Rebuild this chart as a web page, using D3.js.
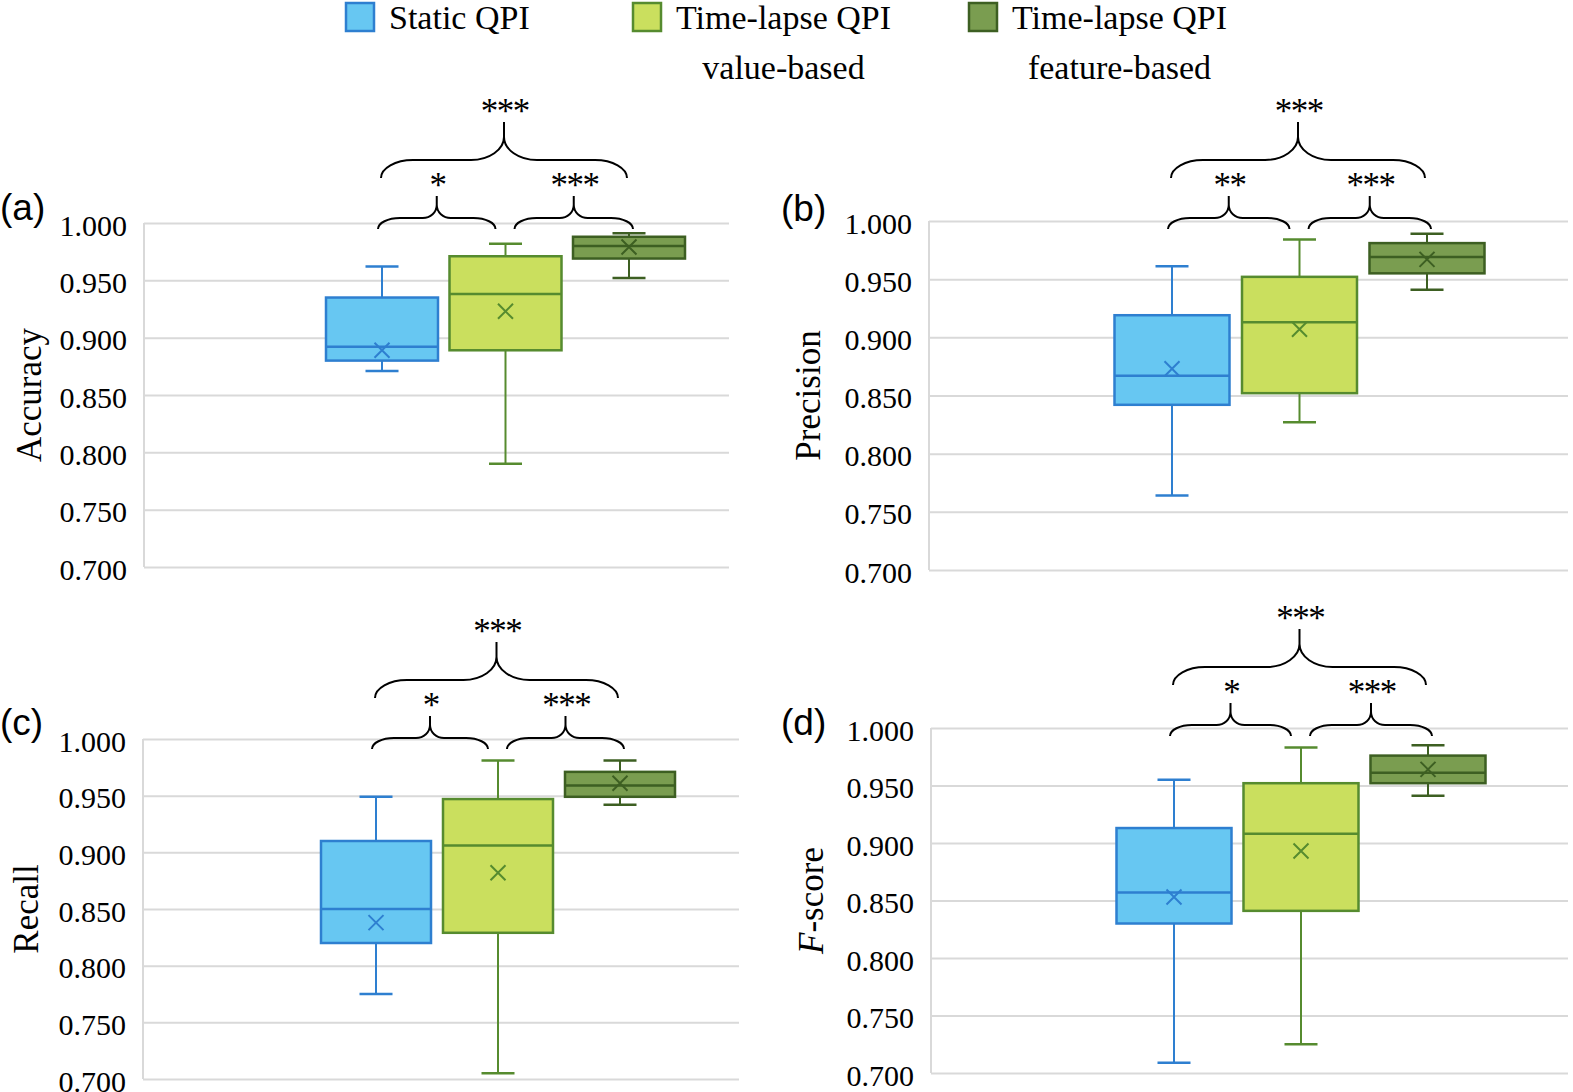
<!DOCTYPE html>
<html>
<head>
<meta charset="utf-8">
<script src="https://cdn.jsdelivr.net/npm/d3@7"></script>
<style>
  body { margin: 0; background: #fff; }
  svg { display: block; }
</style>
</head>
<body>
<svg id="chart" width="1573" height="1092"></svg>
<script>
// series and metrics
const seriesNames = ["Static QPI", "Time-lapse QPI value-based", "Time-lapse QPI feature-based"];
const metricNames = ["Accuracy", "Precision", "Recall", "F-score"];
const panelTags = ["(a)", "(b)", "(c)", "(d)"];
const yTicks = [0.700, 0.750, 0.800, 0.850, 0.900, 0.950, 1.000];

// box plot statistics, [metric][series]
const whiskerLow  = [[0.871, 0.790, 0.952], [0.764, 0.827, 0.941], [0.775, 0.705, 0.942], [0.709, 0.725, 0.941]];
const q1          = [[0.880, 0.889, 0.969], [0.842, 0.852, 0.955], [0.820, 0.829, 0.949], [0.830, 0.841, 0.952]];
const median      = [[0.892, 0.938, 0.980], [0.867, 0.913, 0.969], [0.850, 0.906, 0.959], [0.857, 0.908, 0.961]];
const q3          = [[0.935, 0.971, 0.988], [0.919, 0.952, 0.981], [0.910, 0.947, 0.971], [0.913, 0.952, 0.976]];
const whiskerHigh = [[0.962, 0.982, 0.991], [0.961, 0.984, 0.989], [0.949, 0.981, 0.981], [0.955, 0.983, 0.985]];
const mean        = [[0.889, 0.923, 0.979], [0.873, 0.907, 0.967], [0.838, 0.882, 0.961], [0.853, 0.893, 0.964]];

// significance marks
const sigLeft  = ["*", "**", "*", "*"];
const sigRight = ["***", "***", "***", "***"];
const sigAll   = ["***", "***", "***", "***"];

const fills   = ["#67C7F2", "#CADF5E", "#7A9D50"];
const strokes = ["#2E7FD0", "#568B2F", "#3D5F22"];
const serif = "'Liberation Serif', 'Times New Roman', serif";

// layout of the four panels
const panels = [
  {x0: 144, x1: 729,  yTop: 223, yBot: 567,  c0: 382,  c2: 629,  boxW: 112, braceY: 229, tagX: 0,   tagY: 220, titleX: 41},
  {x0: 929, x1: 1568, yTop: 221, yBot: 570,  c0: 1172, c2: 1427, boxW: 115, braceY: 229, tagX: 781, tagY: 221, titleX: 820},
  {x0: 143, x1: 739,  yTop: 739, yBot: 1079, c0: 376,  c2: 620,  boxW: 110, braceY: 749, tagX: 0,   tagY: 735, titleX: 38},
  {x0: 931, x1: 1568, yTop: 728, yBot: 1073, c0: 1174, c2: 1428, boxW: 115, braceY: 736, tagX: 781, tagY: 735, titleX: 823}
];

const svg = d3.select("#chart");

function drawLegend() {
  let items = [
    {x: 345, label: ["Static QPI"]},
    {x: 632, label: ["Time-lapse QPI", "value-based"]},
    {x: 968, label: ["Time-lapse QPI", "feature-based"]}
  ];
  items.forEach((it, i) => {
    let g = svg.append("g");
    g.append("rect")
      .attr("x", it.x + 1).attr("y", 3)
      .attr("width", 28).attr("height", 28)
      .attr("fill", fills[i])
      .attr("stroke", strokes[i])
      .attr("stroke-width", 2.5);
    let t = g.append("text")
      .attr("x", it.x + 44).attr("y", 29)
      .attr("font-family", serif)
      .attr("font-size", 34)
      .text(it.label[0]);
    if (it.label.length > 1) {
      let w = t.node().getComputedTextLength();
      g.append("text")
        .attr("x", it.x + 44 + w / 2).attr("y", 79)
        .attr("text-anchor", "middle")
        .attr("font-family", serif)
        .attr("font-size", 34)
        .text(it.label[1]);
    }
  });
}

function bracePath(xa, xb, yEnd, yMid, yTip, r1, r2, yK) {
  let xm = (xa + xb) / 2;
  let k = 0.55;
  return `M${xa},${yEnd}` +
    `C${xa},${yEnd - (yEnd - yMid) * k} ${xa + r1 * (1 - k)},${yMid} ${xa + r1},${yMid}` +
    `L${xm - r2},${yMid}` +
    `C${xm - r2 * (1 - k)},${yMid} ${xm},${yK + (yMid - yK) * k} ${xm},${yK}` +
    `L${xm},${yTip}` +
    `M${xm},${yK}` +
    `C${xm},${yK + (yMid - yK) * k} ${xm + r2 * (1 - k)},${yMid} ${xm + r2},${yMid}` +
    `L${xb - r1},${yMid}` +
    `C${xb - r1 * (1 - k)},${yMid} ${xb},${yEnd - (yEnd - yMid) * k} ${xb},${yEnd}`;
}

function drawBrace(g, xa, xb, yEnd, big, label) {
  let yMid = big ? yEnd - 18 : yEnd - 11;
  let yTip = big ? yEnd - 56 : yEnd - 33;
  let yK = big ? yMid - 23 : yMid - 13;
  g.append("path")
    .attr("d", bracePath(xa, xb, yEnd, yMid, yTip, big ? 32 : 22, big ? 33 : 14, yK))
    .attr("fill", "none")
    .attr("stroke", "#000")
    .attr("stroke-width", 2);
  // star labels, centre about 17px above the tip
  g.append("text")
    .attr("x", (xa + xb) / 2 + 0.75)
    .attr("y", yTip - 17 + 18)
    .attr("text-anchor", "middle")
    .attr("font-family", serif)
    .attr("font-size", 35)
    .attr("letter-spacing", -1.5)
    .text(label);
}

function drawPanel(m) {
  let p = panels[m];
  let g = svg.append("g");
  let y = d3.scaleLinear().domain([0.7, 1.0]).range([p.yBot, p.yTop]);
  let x = d3.scalePoint().domain(seriesNames).range([p.c0, p.c2]);

  // gridlines + tick labels
  let axis = d3.axisLeft(y)
    .tickValues(yTicks)
    .tickSize(-(p.x1 - p.x0))
    .tickPadding(17)
    .tickFormat(d3.format(".3f"));
  let ag = g.append("g").attr("transform", `translate(${p.x0},0)`).call(axis);
  ag.attr("font-family", serif).attr("font-size", 30);
  ag.select(".domain").remove();
  ag.selectAll(".tick line").attr("stroke", "#D9D9D9").attr("stroke-width", 2);
  ag.selectAll(".tick text")
    .attr("font-family", serif)
    .attr("font-size", 30)
    .attr("fill", "#000")
    .attr("dy", "0.4em");
  g.append("line")
    .attr("x1", p.x0).attr("x2", p.x0)
    .attr("y1", y(1.0)).attr("y2", y(0.7))
    .attr("stroke", "#D9D9D9").attr("stroke-width", 2);

  // boxes
  seriesNames.forEach((s, i) => {
    let cx = x(s);
    let bw = p.boxW;
    let capW = 33;
    let col = strokes[i];
    g.append("line")
      .attr("x1", cx).attr("x2", cx)
      .attr("y1", y(whiskerHigh[m][i])).attr("y2", y(q3[m][i]))
      .attr("stroke", col).attr("stroke-width", 2);
    g.append("line")
      .attr("x1", cx).attr("x2", cx)
      .attr("y1", y(q1[m][i])).attr("y2", y(whiskerLow[m][i]))
      .attr("stroke", col).attr("stroke-width", 2);
    [whiskerHigh[m][i], whiskerLow[m][i]].forEach(v => {
      g.append("line")
        .attr("x1", cx - capW / 2).attr("x2", cx + capW / 2)
        .attr("y1", y(v)).attr("y2", y(v))
        .attr("stroke", col).attr("stroke-width", 2.5);
    });
    g.append("rect")
      .attr("x", cx - bw / 2).attr("y", y(q3[m][i]))
      .attr("width", bw).attr("height", y(q1[m][i]) - y(q3[m][i]))
      .attr("fill", fills[i])
      .attr("stroke", col).attr("stroke-width", 2.5);
    g.append("line")
      .attr("x1", cx - bw / 2).attr("x2", cx + bw / 2)
      .attr("y1", y(median[m][i])).attr("y2", y(median[m][i]))
      .attr("stroke", col).attr("stroke-width", 2.5);
    let my = y(mean[m][i]);
    let h = 7.5;
    g.append("path")
      .attr("d", `M${cx - h},${my - h}L${cx + h},${my + h}M${cx - h},${my + h}L${cx + h},${my - h}`)
      .attr("stroke", col).attr("stroke-width", 2).attr("fill", "none");
  });

  // braces
  let c0 = x(seriesNames[0]), c1 = x(seriesNames[1]), c2 = x(seriesNames[2]);
  drawBrace(g, c0 - 4, c1 - 10, p.braceY, false, sigLeft[m]);
  drawBrace(g, c1 + 9, c2 + 4, p.braceY, false, sigRight[m]);
  drawBrace(g, c0 - 1, c2 - 2, p.braceY - 51, true, sigAll[m]);

  // panel tag
  g.append("text")
    .attr("x", p.tagX).attr("y", p.tagY)
    .attr("font-family", "'Liberation Sans', Arial, sans-serif")
    .attr("font-size", 37)
    .text(panelTags[m]);

  // y title
  let cy = (p.yTop + p.yBot) / 2;
  let t = g.append("text")
    .attr("transform", `translate(${p.titleX},${cy}) rotate(-90)`)
    .attr("text-anchor", "middle")
    .attr("font-family", serif)
    .attr("font-size", 35);
  if (metricNames[m] === "F-score") {
    t.append("tspan").attr("font-style", "italic").text("F");
    t.append("tspan").text("-score");
  } else {
    t.text(metricNames[m]);
  }
}

drawLegend();
metricNames.forEach((d, i) => drawPanel(i));
</script>
</body>
</html>
